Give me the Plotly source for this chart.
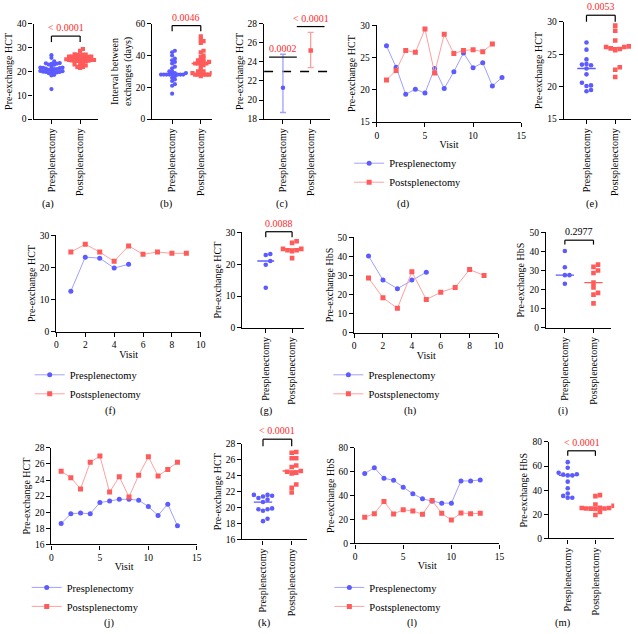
import plotly.graph_objects as go
import numpy as np

W, H = 638, 634
FONT = "Liberation Serif"
BLUE = "#5b5bff"
RED = "#ff5b5b"
BLUE_L = "#a0a0ff"
RED_L = "#ffa0a0"
SIG = "#ff2b2b"

CATS = ["Presplenectomy", "Postsplenectomy"]
LEG = ["Presplenectomy", "Postsplenectomy"]

# ---- data ----
d_pre = [26.8, 23.5, 19.3, 20.1, 19.5, 23.3, 20.2, 22.8, 25.7, 23.4, 24.2, 20.6, 21.9]
d_post = [21.5, 23.0, 26.1, 25.8, 29.4, 22.6, 28.6, 25.6, 26.1, 26.2, 25.9, 27.1]
f_pre = [12.6, 23.2, 22.9, 19.8, 21.0]
f_post = [24.8, 27.2, 24.8, 21.9, 26.7, 24.1, 24.8, 24.4, 24.4]
h_pre = [40.2, 27.6, 23.1, 27.6, 31.7]
h_post = [28.7, 18.3, 12.8, 31.9, 17.4, 21.2, 23.7, 33.1, 30.0]
j_pre = [18.6, 19.8, 19.9, 19.8, 21.2, 21.4, 21.6, 21.6, 21.5, 20.7, 19.6, 21.0, 18.3]
j_post = [25.1, 24.3, 22.9, 26.2, 27.0, 22.5, 24.4, 21.9, 24.6, 26.9, 24.5, 25.3, 26.2]
l_pre = [58.6, 63.3, 54.5, 52.9, 47.1, 41.6, 37.3, 35.3, 33.7, 33.7, 52.3, 52.3, 53.2]
l_post = [21.9, 24.9, 35.1, 24.7, 28.2, 27.1, 24.4, 35.9, 25.2, 19.5, 25.5, 24.9, 25.2]

b_pre = [16, 21, 22, 24, 25, 26, 27, 28, 28, 28, 28, 28, 28, 28, 28, 29, 29, 30, 30,
         32, 33, 35, 36, 37, 38, 40, 42, 43]
b_post = [27, 28, 28, 28, 28, 28, 29, 29, 29, 30, 30, 31, 33, 34, 35, 35, 35, 35, 36,
          36, 37, 37, 38, 39, 40, 42, 43, 48, 49, 50, 52]

c_mean = [21.3, 25.2]
c_low = [18.7, 23.4]
c_high = [24.8, 27.1]
c_ref = 23

a_pre = d_pre + f_pre + j_pre
a_post = d_post + f_post + j_post

# ---- panel boxes (pixels) ----
P = {
    'a': dict(n=1, px=(32, 97), py=(19, 116), xr=(-0.62, 1.62), yr=(0, 40), ydt=10, yt="Pre-exchange HCT", cap=(47, 202)),
    'b': dict(n=2, px=(152, 212), py=(19, 116), xr=(-0.69, 1.38), yr=(0, 60), ydt=20, yt="Interval between<br>exchanges (days)", cap=(166, 202)),
    'c': dict(n=3, px=(265, 332), py=(19, 116), xr=(-0.68, 1.71), yr=(18, 28), ydt=2, yt="Pre-exchange HCT", cap=(283, 202)),
    'd': dict(n=4, px=(379, 525), py=(20.5, 119), xr=(0, 15), xdt=5, yr=(15, 30), ydt=5, yt="Pre-exchange HCT", cap=(406, 202)),
    'e': dict(n=5, px=(568, 636), py=(17, 116), xr=(-0.79, 1.55), yr=(15, 30), ydt=5, yt="Pre-exchange HCT", cap=(597, 202)),
    'f': dict(n=6, px=(55, 201), py=(234, 332), xr=(0, 10), xdt=2, yr=(0, 30), ydt=10, yt="Pre-exchange HCT", cap=(110, 413)),
    'g': dict(n=7, px=(243, 305), py=(231, 328), xr=(-0.89, 1.44), yr=(0, 30), ydt=10, yt="Pre-exchange HCT", cap=(267, 413)),
    'h': dict(n=8, px=(356, 502), py=(236, 333), xr=(0, 10), xdt=2, yr=(0, 50), ydt=10, yt="Pre-exchange HbS", cap=(413, 413)),
    'i': dict(n=9, px=(550, 616), py=(231, 328), xr=(-0.66, 1.62), yr=(0, 50), ydt=10, yt="Pre-exchange HbS", cap=(567, 413)),
    'j': dict(n=10, px=(50, 197), py=(450, 548), xr=(0, 15), xdt=5, yr=(16, 28), ydt=2, yt="Pre-exchange HCT", cap=(108, 628)),
    'k': dict(n=11, px=(243, 308), py=(446, 543), xr=(-0.72, 1.52), yr=(16, 28), ydt=2, yt="Pre-exchange HCT", cap=(265, 628)),
    'l': dict(n=12, px=(357, 503), py=(450, 547), xr=(0, 15), xdt=5, yr=(0, 80), ydt=20, yt="Pre-exchange HbS", cap=(415, 628)),
    'm': dict(n=13, px=(553, 619), py=(444, 542), xr=(-0.68, 1.68), yr=(0, 80), ydt=20, yt="Pre-exchange HbS", cap=(567, 628)),
}

fig = go.Figure()
layout = dict(width=W, height=H, margin=dict(l=0, r=0, t=0, b=0),
              paper_bgcolor="white", plot_bgcolor="white",
              font=dict(family=FONT, size=10, color="black"), showlegend=True)
shapes, annos = [], []

def ax(n, c):
    return c if n == 1 else f"{c}{n}"

def axkey(n, c):
    return f"{c}axis" if n == 1 else f"{c}axis{n}"

def fx(p, v):
    return (v - p['xr'][0]) / (p['xr'][1] - p['xr'][0])

def fy(p, v):
    return (v - p['yr'][0]) / (p['yr'][1] - p['yr'][0])

AX = dict(showline=True, linecolor="black", linewidth=1.3, ticks="outside", ticklen=4,
          tickwidth=1.3, tickcolor="black", showgrid=False, zeroline=False,
          tickfont=dict(family=FONT, size=9.5, color="black"))

for key, p in P.items():
    n = p['n']
    xa = dict(AX, domain=[p['px'][0] / W, p['px'][1] / W], range=list(p['xr']), anchor=ax(n, 'y'))
    ya = dict(AX, domain=[1 - p['py'][1] / H, 1 - p['py'][0] / H], range=list(p['yr']), anchor=ax(n, 'x'),
              tickmode="linear", tick0=p['yr'][0], dtick=p['ydt'],
              title=dict(text=p['yt'], font=dict(family=FONT, size=10), standoff=2))
    if 'xdt' in p:
        xa.update(tickmode="linear", tick0=0, dtick=p['xdt'],
                  title=dict(text="Visit", font=dict(family=FONT, size=10), standoff=1))
    else:
        xa.update(tickmode="array", tickvals=[0, 1], ticktext=CATS, tickangle=-90,
                  tickfont=dict(family=FONT, size=10, color="black"))
    layout[axkey(n, 'x')] = xa
    layout[axkey(n, 'y')] = ya
    annos.append(dict(text=f"({key})", x=p['cap'][0] / W, y=1 - p['cap'][1] / H, xref="paper", yref="paper",
                      showarrow=False, xanchor="center", yanchor="middle", font=dict(family=FONT, size=10.5)))

def swarm(vals, center, p, d=4.6):
    sx = (p['px'][1] - p['px'][0]) / (p['xr'][1] - p['xr'][0])
    sy = (p['py'][1] - p['py'][0]) / (p['yr'][1] - p['yr'][0])
    vals = np.asarray(vals, float)
    order = np.argsort(vals)
    placed = []
    xs = np.zeros(len(vals))
    for i in order:
        yp = vals[i] * sy
        k = 0
        while True:
            off = ((k + 1) // 2) * d * (1 if k % 2 == 1 else -1) if k else 0.0
            if all((off - ox) ** 2 + (yp - oy) ** 2 >= (d * 0.92) ** 2 for ox, oy in placed):
                break
            k += 1
        placed.append((off, yp))
        xs[i] = center + off / sx
    return xs

def dotplot(key, pre, post, size=4.6, gap=None):
    p = P[key]; n = p['n']
    for c, vals, col, sym in [(0, pre, BLUE, "circle"), (1, post, RED, "square")]:
        xs = swarm(vals, c, p, d=gap or size)
        fig.add_trace(go.Scatter(x=xs, y=vals, mode="markers", showlegend=False,
                                 marker=dict(color=col, symbol=sym, size=size, line=dict(width=0)),
                                 xaxis=ax(n, 'x'), yaxis=ax(n, 'y')))
        med = float(np.median(vals))
        fig.add_trace(go.Scatter(x=[c - 0.32, c + 0.32], y=[med, med], mode="lines", showlegend=False,
                                 line=dict(color=col, width=1.3), xaxis=ax(n, 'x'), yaxis=ax(n, 'y')))

def bracket(key, ytop, ydrop, text, color=SIG, x0=0, x1=1, texty=None):
    p = P[key]; n = p['n']
    xd, yd = ax(n, 'x') + " domain", ax(n, 'y') + " domain"
    L = dict(color="black", width=1.2)
    shapes.append(dict(type="line", xref=xd, yref=yd, x0=fx(p, x0), x1=fx(p, x1), y0=fy(p, ytop), y1=fy(p, ytop), line=L))
    if ydrop is not None:
        for xx in (x0, x1):
            shapes.append(dict(type="line", xref=xd, yref=yd, x0=fx(p, xx), x1=fx(p, xx), y0=fy(p, ytop), y1=fy(p, ydrop), line=L))
    annos.append(dict(text=text, x=fx(p, (x0 + x1) / 2), y=fy(p, texty if texty is not None else ytop),
                      xref=xd, yref=yd, showarrow=False, xanchor="center", yanchor="bottom",
                      yshift=1, font=dict(family=FONT, size=10, color=color)))

def linechart(key, pre, post, legname, lx, ly):
    p = P[key]; n = p['n']
    for vals, col, lcol, sym, name in [(pre, BLUE, BLUE_L, "circle", LEG[0]), (post, RED, RED_L, "square", LEG[1])]:
        visits = list(range(1, len(vals) + 1))
        fig.add_trace(go.Scatter(x=visits, y=vals, mode="lines+markers", name=name, legend=legname,
                                 marker=dict(color=col, symbol=sym, size=5),
                                 line=dict(color=lcol, width=1), xaxis=ax(n, 'x'), yaxis=ax(n, 'y')))
    layout[legname] = dict(x=lx / W, y=1 - ly / H, xanchor="left", yanchor="top", bgcolor="rgba(0,0,0,0)",
                           font=dict(family=FONT, size=10.5), itemwidth=30, tracegroupgap=0)

# (a)
dotplot('a', a_pre, a_post, 4.2, gap=2.8)
bracket('a', 34.8, 32.3, "< 0.0001")
# (b)
dotplot('b', b_pre, b_post, 4.2, gap=2.8)
bracket('b', 58.8, 55.3, "0.0046")
# (c)
pc = P['c']
fig.add_trace(go.Scatter(x=list(pc['xr']), y=[c_ref, c_ref], mode="lines", showlegend=False,
                         line=dict(color="black", width=1.6, dash="dash"), xaxis="x3", yaxis="y3"))
for i, (col, sym) in enumerate([(BLUE, "circle"), (RED, "square")]):
    fig.add_trace(go.Scatter(x=[i], y=[c_mean[i]], mode="markers", showlegend=False,
                             marker=dict(color=col, symbol=sym, size=4.5),
                             error_y=dict(type="data", symmetric=False, array=[c_high[i] - c_mean[i]],
                                          arrayminus=[c_mean[i] - c_low[i]], color=BLUE_L if i == 0 else RED_L,
                                          thickness=1.3, width=3),
                             xaxis="x3", yaxis="y3"))
bracket('c', 24.5, None, "0.0002", x0=-0.5, x1=0.5)
bracket('c', 27.7, None, "< 0.0001", x0=0.5, x1=1.5)
# (d), (e)
linechart('d', d_pre, d_post, "legend", 351, 146)
dotplot('e', d_pre, d_post, 4.6)
bracket('e', 31.0, 30.0, "0.0053")
# (f), (g)
linechart('f', f_pre, f_post, "legend2", 28, 361)
dotplot('g', f_pre, f_post, 4.6)
bracket('g', 30.2, 28.5, "0.0088")
# (h), (i)
linechart('h', h_pre, h_post, "legend3", 330, 361)
dotplot('i', h_pre, h_post, 4.6)
bracket('i', 45.9, 43.6, "0.2977", color="black")
# (j), (k)
linechart('j', j_pre, j_post, "legend4", 25, 577)
dotplot('k', j_pre, j_post, 4.6)
bracket('k', 28.6, 27.7, "< 0.0001")
# (l), (m)
linechart('l', l_pre, l_post, "legend5", 331, 577)
dotplot('m', l_pre, l_post, 4.6)
bracket('m', 72.7, 68.5, "< 0.0001")

layout['shapes'] = shapes
layout['annotations'] = annos
fig.update_layout(**layout)
fig.write_html("out.html")
